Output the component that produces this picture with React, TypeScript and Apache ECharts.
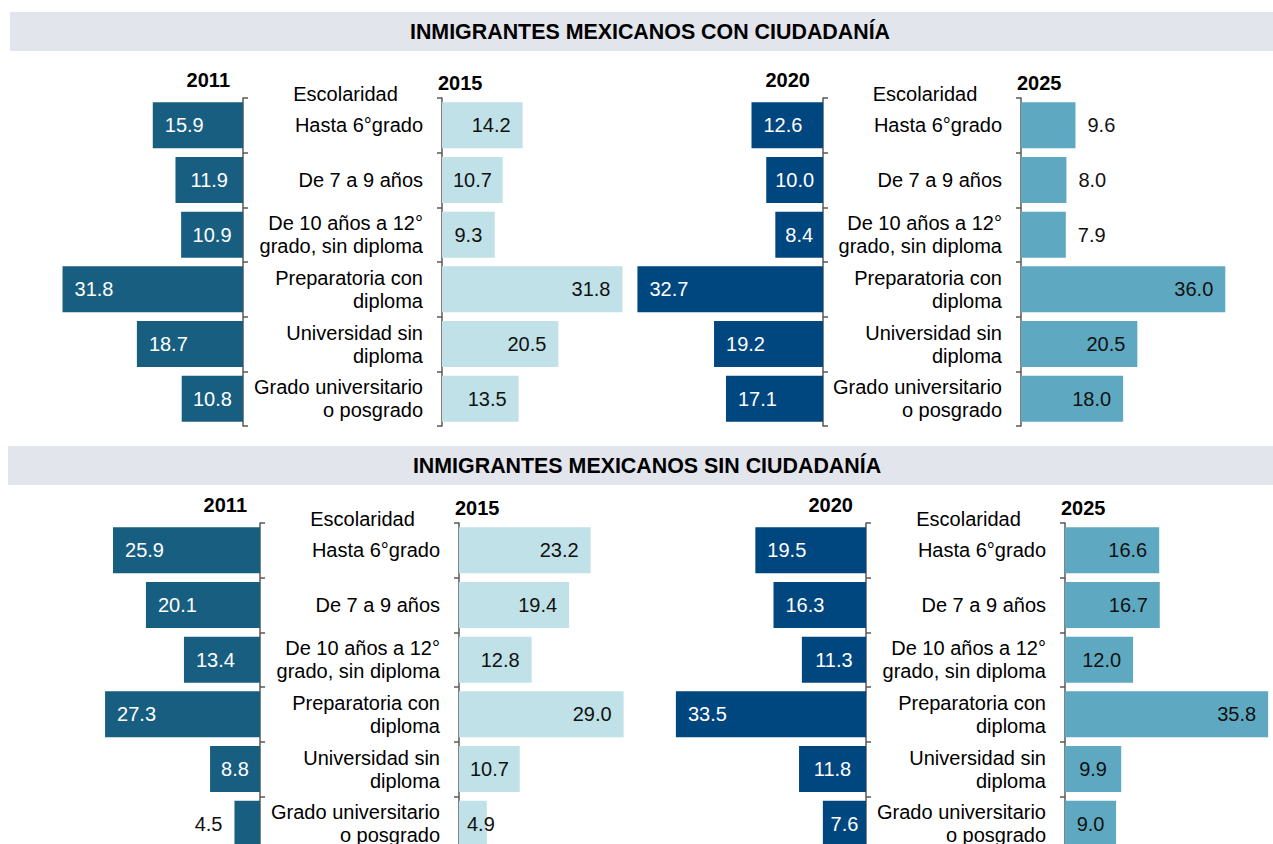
import React, { useEffect, useRef } from "react";
import * as echarts from "echarts";

// ---- Data ----
const categories = [
  "Hasta 6°grado",
  "De 7 a 9 años",
  "De 10 años a 12°\ngrado, sin diploma",
  "Preparatoria con\ndiploma",
  "Universidad sin\ndiploma",
  "Grado universitario\no posgrado",
];

const conCiudadania2011 = [15.9, 11.9, 10.9, 31.8, 18.7, 10.8];
const conCiudadania2015 = [14.2, 10.7, 9.3, 31.8, 20.5, 13.5];
const conCiudadania2020 = [12.6, 10.0, 8.4, 32.7, 19.2, 17.1];
const conCiudadania2025 = [9.6, 8.0, 7.9, 36.0, 20.5, 18.0];

const sinCiudadania2011 = [25.9, 20.1, 13.4, 27.3, 8.8, 4.5];
const sinCiudadania2015 = [23.2, 19.4, 12.8, 29.0, 10.7, 4.9];
const sinCiudadania2020 = [19.5, 16.3, 11.3, 33.5, 11.8, 7.6];
const sinCiudadania2025 = [16.6, 16.7, 12.0, 35.8, 9.9, 9.0];

const sectionTitles = [
  "INMIGRANTES MEXICANOS CON CIUDADANÍA",
  "INMIGRANTES MEXICANOS SIN CIUDADANÍA",
];
const years = ["2011", "2015", "2020", "2025"];
const dimensionLabel = "Escolaridad";

// ---- Style / layout ----
const FONT = 'Arial, "Liberation Sans", sans-serif';
const MAX = 40;
const GW = 227;
const ROWS_H = 328;
const C2011 = "#185e80";
const C2015 = "#bfe1e7";
const C2020 = "#00467f";
const C2025 = "#5ea9c1";
const AXIS = "#595959";
const DARK = "#111111";

type Panel = {
  top: number;
  la: number;
  ra: number;
  left: number[];
  right: number[];
  lc: string;
  rc: string;
  ly: string;
  ry: string;
  lo: Record<number, any>;
  ro: Record<number, any>;
};

const panels: Panel[] = [
  {
    top: 98, la: 243, ra: 442,
    left: conCiudadania2011, right: conCiudadania2015,
    lc: C2011, rc: C2015, ly: years[0], ry: years[1],
    lo: {}, ro: {},
  },
  {
    top: 98, la: 823, ra: 1021,
    left: conCiudadania2020, right: conCiudadania2025,
    lc: C2020, rc: C2025, ly: years[2], ry: years[3],
    lo: {},
    ro: {
      0: { position: "right", distance: 12 },
      1: { position: "right", distance: 12 },
      2: { position: "right", distance: 12 },
    },
  },
  {
    top: 523, la: 260, ra: 459,
    left: sinCiudadania2011, right: sinCiudadania2015,
    lc: C2011, rc: C2015, ly: years[0], ry: years[1],
    lo: { 5: { position: "left", distance: 12, color: DARK } },
    ro: { 5: { position: "insideLeft", distance: 8 } },
  },
  {
    top: 523, la: 866, ra: 1065,
    left: sinCiudadania2020, right: sinCiudadania2025,
    lc: C2020, rc: C2025, ly: years[2], ry: years[3],
    lo: {}, ro: {},
  },
];

function items(values: number[], isLeft: boolean, overrides: Record<number, any>) {
  return values.map((v, i) => {
    const base = isLeft
      ? v >= 12
        ? { position: "insideLeft", distance: 12 }
        : { position: "inside" }
      : v >= 12
      ? { position: "insideRight", distance: 12 }
      : { position: "inside" };
    return { value: v, label: { ...base, ...(overrides[i] || {}) } };
  });
}

function buildOption() {
  const grid: any[] = [];
  const xAxis: any[] = [];
  const yAxis: any[] = [];
  const series: any[] = [];
  const graphic: any[] = [];

  // bands and section titles
  graphic.push(
    { type: "rect", shape: { x: 10, y: 12, width: 1263, height: 39 }, style: { fill: "#e2e5ec" } },
    { type: "rect", shape: { x: 8, y: 446, width: 1265, height: 39 }, style: { fill: "#e2e5ec" } },
    {
      type: "text", x: 650, y: 32,
      style: {
        text: sectionTitles[0], fontSize: 21.4, fontWeight: "bold", fontFamily: FONT, fill: "#000",
        align: "center", verticalAlign: "middle", textAlign: "center", textVerticalAlign: "middle",
      },
    },
    {
      type: "text", x: 647, y: 466,
      style: {
        text: sectionTitles[1], fontSize: 21.4, fontWeight: "bold", fontFamily: FONT, fill: "#000",
        align: "center", verticalAlign: "middle", textAlign: "center", textVerticalAlign: "middle",
      },
    }
  );

  panels.forEach((p) => {
    [true, false].forEach((isLeft) => {
      const gi = grid.length;
      grid.push({
        left: isLeft ? p.la - GW : p.ra,
        top: p.top,
        width: GW,
        height: ROWS_H,
        containLabel: false,
      });
      xAxis.push({
        gridIndex: gi, type: "value", min: 0, max: MAX, inverse: isLeft, show: false,
      });
      yAxis.push({
        gridIndex: gi,
        type: "category",
        data: categories,
        inverse: true,
        position: isLeft ? "right" : "left",
        axisLine: { show: true, lineStyle: { color: AXIS, width: 1.5 } },
        axisTick: { show: true, length: 5, lineStyle: { color: AXIS, width: 1.5 } },
        splitLine: { show: false },
        axisLabel: isLeft
          ? { show: false }
          : {
              show: true, margin: 19, fontSize: 20, lineHeight: 23, color: "#000",
              fontFamily: FONT, align: "right",
            },
      });
      series.push({
        type: "bar",
        xAxisIndex: gi,
        yAxisIndex: gi,
        barCategoryGap: "16%",
        data: items(isLeft ? p.left : p.right, isLeft, isLeft ? p.lo : p.ro),
        itemStyle: { color: isLeft ? p.lc : p.rc },
        label: {
          show: true,
          fontSize: 20,
          fontFamily: FONT,
          color: isLeft ? "#ffffff" : DARK,
          formatter: (pp: any) => Number(pp.value).toFixed(1),
        },
      });
    });

    // year headers and dimension label
    graphic.push(
      {
        type: "text", x: p.la - 13, y: p.top - 18,
        style: {
          text: p.ly, fontSize: 20, fontWeight: "bold", fontFamily: FONT, fill: "#000",
          align: "right", verticalAlign: "middle", textAlign: "right", textVerticalAlign: "middle",
        },
      },
      {
        type: "text", x: p.ra - 4, y: p.top - 15,
        style: {
          text: p.ry, fontSize: 20, fontWeight: "bold", fontFamily: FONT, fill: "#000",
          align: "left", verticalAlign: "middle", textAlign: "left", textVerticalAlign: "middle",
        },
      },
      {
        type: "text", x: (p.la + p.ra) / 2 + 3, y: p.top - 4,
        style: {
          text: dimensionLabel, fontSize: 20, fontFamily: FONT, fill: "#000",
          align: "center", verticalAlign: "middle", textAlign: "center", textVerticalAlign: "middle",
        },
      }
    );
  });

  return {
    animation: false,
    backgroundColor: "#ffffff",
    textStyle: { fontFamily: FONT },
    grid,
    xAxis,
    yAxis,
    series,
    graphic,
  };
}

export default function App() {
  const ref = useRef<HTMLDivElement>(null);
  useEffect(() => {
    if (!ref.current) return;
    const chart = echarts.init(ref.current, undefined, { renderer: "svg" });
    chart.setOption(buildOption() as any);
    return () => chart.dispose();
  }, []);
  return (
    <div
      style={{
        position: "absolute",
        left: 0,
        top: 0,
        width: 1273,
        height: 844,
        overflow: "hidden",
        background: "#ffffff",
      }}
    >
      <div ref={ref} style={{ width: 1310, height: 880 }} />
    </div>
  );
}
